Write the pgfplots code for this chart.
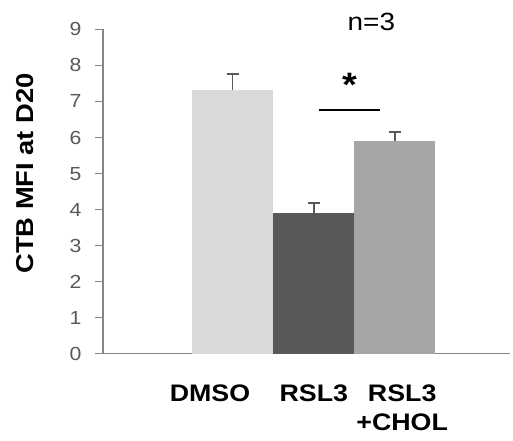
\documentclass[border=0pt]{standalone}
\usepackage{pgfplots}
\pgfplotsset{compat=1.18}
\usepackage{fontspec}
\setmainfont{Liberation Sans}[FakeStretch=1.12]
\definecolor{c1}{HTML}{D9D9D9}
\definecolor{c2}{HTML}{595959}
\definecolor{c3}{HTML}{A6A6A6}
\definecolor{axgray}{HTML}{868686}
\definecolor{tickgray}{HTML}{595959}
\definecolor{errgray}{HTML}{595959}
\begin{document}
\begin{tikzpicture}[x=1bp,y=1bp]
\begin{axis}[
  at={(0,0)}, anchor=south west,
  scale only axis, width=407bp, height=324.7bp,
  xmin=-1.6, xmax=3.42, ymin=0, ymax=9,
  axis lines=left,
  axis line style={draw=axgray, line width=1bp, -},
  ytick={0,1,...,9},
  tick align=outside, major tick length=8bp,
  ytick style={draw=axgray, line width=1bp},
  /pgf/number format/assume math mode=true,
  xtick={-0.28,1,2.09},
  xticklabels={DMSO,RSL3,RSL3\\+CHOL},
  xtick style={draw=none},
  xticklabel style={font=\fontsize{24}{29.5}\selectfont\bfseries, align=center, anchor=north, yshift=-19bp},
  yticklabel style={font=\fontsize{19}{21}\selectfont, text=tickgray, xshift=-10bp},
  every axis y label/.style={at={(axis description cs:-0.192,0.556)}, rotate=90, anchor=center, font=\fontsize{24.5}{28}\selectfont\bfseries},
  ylabel={CTB MFI at D20},
  ybar, bar width=1, bar shift=0pt,
  clip=false,
]
\addplot[fill=c1, draw=none, error bars/.cd, y dir=plus, y explicit, error mark=|,
  error bar style={draw=errgray, line width=1.5bp},
  error mark options={draw=errgray, line width=2bp, mark size=6bp}]
  coordinates {(0,7.31) +- (0,0.45)};
\addplot[fill=c2, draw=none, error bars/.cd, y dir=plus, y explicit, error mark=|,
  error bar style={draw=errgray, line width=1.5bp},
  error mark options={draw=errgray, line width=2bp, mark size=6bp}]
  coordinates {(1,3.91) +- (0,0.28)};
\addplot[fill=c3, draw=none, error bars/.cd, y dir=plus, y explicit, error mark=|,
  error bar style={draw=errgray, line width=1.5bp},
  error mark options={draw=errgray, line width=2bp, mark size=6bp}]
  coordinates {(2,5.90) +- (0,0.26)};
\draw[black, line width=1.5bp] (axis cs:1.07,6.76) -- (axis cs:1.82,6.76);
\node[font=\fontsize{34}{36}\selectfont\bfseries] at (axis cs:1.44,7.45) {*};
\node[font=\fontsize{25}{28}\selectfont] at (axis cs:1.71,9.2) {n=3};
\end{axis}
\pgfresetboundingbox
\path[use as bounding box] (-103,-87) rectangle (410,354);
\end{tikzpicture}
\end{document}
